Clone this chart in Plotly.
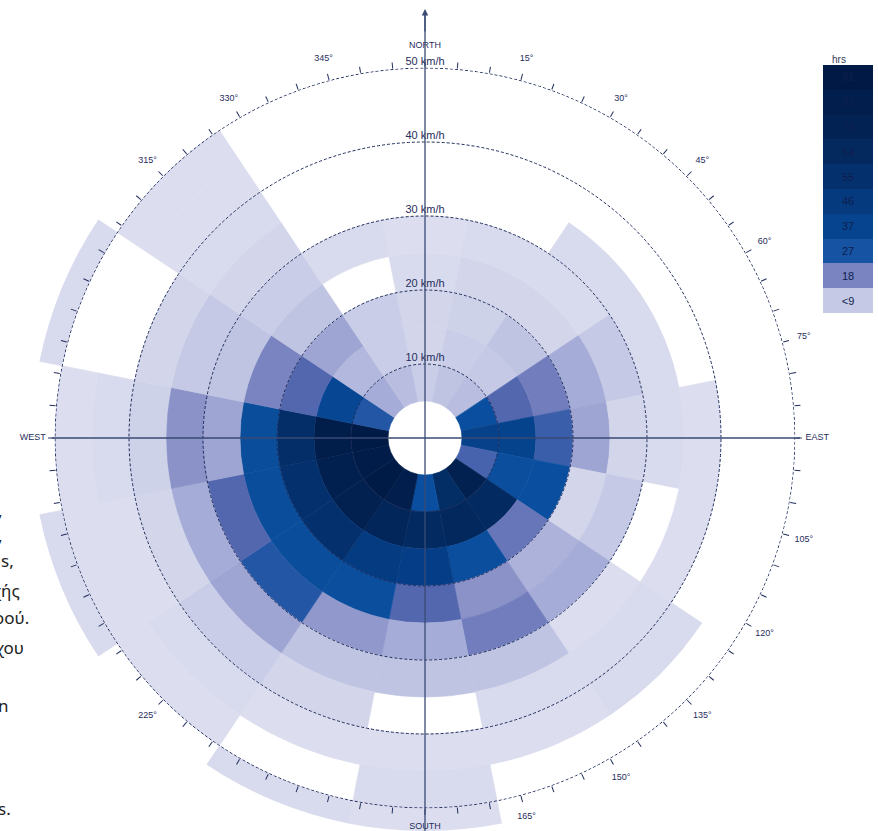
import plotly.graph_objects as go

# ---------------- data ----------------
directions = ["N", "NNE", "NE", "ENE", "E", "ESE", "SE", "SSE",
              "S", "SSW", "SW", "WSW", "W", "WNW", "NW", "NNW"]
direction_deg = [0, 22.5, 45, 67.5, 90, 112.5, 135, 157.5,
                 180, 202.5, 225, 247.5, 270, 292.5, 315, 337.5]
speed_bin_start = [5, 10, 15, 20, 25, 30, 35, 40, 45, 50]   # km/h
speed_bin_size = 5                                          # km/h

# hours per speed bin, values in the order of `directions`
hrs_05_10 = [6, 8, 9, 28, 40, 23, 75, 60, 28, 82, 88, 86, 89, 26, 12, 9]
hrs_10_15 = [4, 6, 7, 22, 38, 29, 62, 65, 62, 68, 76, 78, 84, 35, 10, 6]
hrs_15_20 = [4, 5, 8, 19, 24, 28, 20, 29, 42, 45, 55, 55, 58, 22, 13, 6]
hrs_20_25 = [3, 4, 4, 12, 13, 4, 11, 16, 22, 29, 30, 30, 30, 18, 8, 0]
hrs_25_30 = [2, 3, 3, 7, 4, 7, 12, 19, 12, 15, 26, 22, 13, 8, 6, 3]
hrs_30_35 = [0, 0, 3, 3, 3, 0, 2, 8, 8, 8, 13, 12, 16, 7, 4, 0]
hrs_35_40 = [0, 0, 0, 0, 2, 2, 3, 3, 0, 4, 6, 4, 5, 4, 3, 0]
hrs_40_45 = [0, 0, 0, 0, 0, 0, 3, 2, 2, 2, 3, 2, 3, 0, 2, 0]
hrs_45_50 = [0, 0, 0, 0, 0, 0, 0, 0, 3, 0, 2, 2, 2, 0, 2, 0]
hrs_50_55 = [0, 0, 0, 0, 0, 0, 0, 0, 2, 3, 0, 3, 0, 3, 0, 0]
hours_by_bin = [hrs_05_10, hrs_10_15, hrs_15_20, hrs_20_25, hrs_25_30,
                hrs_30_35, hrs_35_40, hrs_40_45, hrs_45_50, hrs_50_55]

ring_kmh = [10, 20, 30, 40, 50]
legend_labels = ["<9", "18", "27", "37", "46", "55", "64", "73", "82", "91"]
legend_values = [7, 18, 27, 37, 46, 55, 64, 73, 82, 91]
hours_max = 91

# degree labels that the reference shows (others are hidden under outer bars)
degree_labels = [15, 30, 45, 60, 75, 105, 120, 135, 150, 165, 225, 315, 330, 345]
cardinal_deg = [0, 90, 180, 270]
cardinal_names = ["NORTH", "EAST", "SOUTH", "WEST"]

side_text = [",", ",", "s,", "χής", "ρού.", "χου", "n", "s."]

# ---------------- style ----------------
scale_hours = [0, 2, 4, 7, 10, 13, 16, 19, 22, 25, 28, 37, 46, 55, 64, 73, 91]
scale_colors = ["#e4e5f3", "#dcdeef", "#d3d6eb", "#c5c9e5", "#b3b9de", "#9ea5d3",
                "#8a92c8", "#717dbc", "#5367af", "#2f5aa8", "#0a4f9f", "#06448f",
                "#053a7f", "#04316d", "#03295f", "#022253", "#011a45"]
colorscale = [[h / hours_max, c] for h, c in zip(scale_hours, scale_colors)]

NAVY = "#1f2d5c"
LINE = "#3a4a74"
FONT = "Liberation Sans, Arial, sans-serif"
W, H = 878, 831
CX, CY = 425, 438          # centre of the rose (px, from top-left)
PX_PER_KMH = 7.4
R_OUTER = 393              # visible radius of the bar subplot (px)
R_FRAME = 50.05            # km/h, frame subplot range
LABEL_R = 53.0             # radius (km/h units) of the labels round the rim
CARDINAL_R = [53.0, 53.0, 52.6, 53.0]

# ---------------- build bars ----------------
theta, base, rr, col = [], [], [], []
for start, row in zip(speed_bin_start, hours_by_bin):
    for ang, v in zip(direction_deg, row):
        if v > 0:
            theta.append(ang)
            base.append(start)
            rr.append(speed_bin_size)
            col.append(v)

fig = go.Figure()
fig.add_trace(go.Barpolar(
    theta=theta, r=rr, base=base, width=22.5,
    marker=dict(color=col, colorscale=colorscale, cmin=0, cmax=hours_max,
                line=dict(width=0.6, color=col, colorscale=colorscale,
                          cmin=0, cmax=hours_max)),
    subplot="polar", hoverinfo="skip", showlegend=False))

# degree and compass labels around the outer ring
fig.add_trace(go.Scatterpolar(
    r=[LABEL_R] * len(degree_labels) + CARDINAL_R,
    theta=degree_labels + cardinal_deg, mode="text",
    text=[f"{d}°" for d in degree_labels] + cardinal_names,
    textposition="middle center",
    textfont=dict(size=9, color=NAVY, family=FONT),
    subplot="polar", cliponaxis=False, hoverinfo="skip", showlegend=False))

# outer 50 km/h dashed ring
circle_theta = list(range(0, 361, 2))
fig.add_trace(go.Scatterpolar(
    r=[ring_kmh[-1]] * len(circle_theta), theta=circle_theta, mode="lines",
    line=dict(color=NAVY, width=1, dash="3px,2px"),
    subplot="polar2", hoverinfo="skip", showlegend=False))

fig.add_trace(go.Scatterpolar(
    r=ring_kmh, theta=[0] * len(ring_kmh), mode="text",
    text=[f"{v} km/h" for v in ring_kmh], textposition="top center",
    textfont=dict(size=11, color=NAVY, family=FONT),
    subplot="polar2", cliponaxis=False, hoverinfo="skip", showlegend=False))

# legend as a heatmap column
fig.add_trace(go.Heatmap(
    z=[[v] for v in legend_values], x=[0], y=list(range(len(legend_values))),
    text=[[t] for t in legend_labels], texttemplate="%{text}",
    textfont=dict(size=11, color="#0e1e50", family=FONT),
    colorscale=colorscale, zmin=0, zmax=hours_max, showscale=False,
    xgap=0, ygap=0, hoverinfo="skip"))

tickvals = list(range(0, 360, 5))
r_frame_px = R_FRAME * PX_PER_KMH

fig.update_layout(
    width=W, height=H, margin=dict(l=0, r=0, t=0, b=0),
    paper_bgcolor="white", plot_bgcolor="white", showlegend=False,
    font=dict(family=FONT, color=NAVY),
    polar=dict(
        domain=dict(x=[(CX - R_OUTER) / W, (CX + R_OUTER) / W],
                    y=[(H - CY - R_OUTER) / H, (H - CY + R_OUTER) / H]),
        bgcolor="white",
        radialaxis=dict(range=[0, R_OUTER / PX_PER_KMH], showline=False,
                        showgrid=False, showticklabels=False, ticks=""),
        angularaxis=dict(direction="clockwise", rotation=90, showline=False,
                         showgrid=False, showticklabels=False, ticks=""),
    ),
    polar2=dict(
        domain=dict(x=[(CX - r_frame_px) / W, (CX + r_frame_px) / W],
                    y=[(H - CY - r_frame_px) / H, (H - CY + r_frame_px) / H]),
        bgcolor="rgba(0,0,0,0)",
        radialaxis=dict(range=[0, R_FRAME], tickvals=ring_kmh[:-1], showline=False,
                        showticklabels=False, ticks="", showgrid=True,
                        gridcolor=NAVY, gridwidth=1, griddash="3px,2px"),
        angularaxis=dict(direction="clockwise", rotation=90, tickmode="array",
                         tickvals=tickvals, ticktext=[""] * len(tickvals),
                         ticks="outside", ticklen=6, tickwidth=1, tickcolor=NAVY,
                         showgrid=False, showline=False),
    ),
    xaxis=dict(domain=[823 / W, 873 / W], visible=False, fixedrange=True),
    yaxis=dict(domain=[(H - 313) / H, (H - 65) / H], visible=False,
               range=[-0.5, len(legend_values) - 0.5], fixedrange=True),
)

# crosshair axes and north arrow
fig.add_shape(type="line", xref="paper", yref="paper",
              x0=(CX - 373) / W, x1=(CX + 375) / W,
              y0=(H - CY) / H, y1=(H - CY) / H,
              line=dict(color=LINE, width=1.3), layer="above")
fig.add_shape(type="line", xref="paper", yref="paper",
              x0=CX / W, x1=CX / W, y0=0, y1=(H - 14) / H,
              line=dict(color=LINE, width=1.3), layer="above")
fig.add_annotation(x=CX / W, y=(H - 9) / H, xref="paper", yref="paper",
                   ax=0, ay=24, showarrow=True, arrowhead=2, arrowsize=1.0,
                   arrowwidth=1.3, arrowcolor=LINE, text="")

# legend title
fig.add_annotation(x=848 / W, y=(H - 52) / H, xref="paper", yref="paper",
                   text="hrs", showarrow=False,
                   font=dict(size=10, color="#333a55", family=FONT))

# clipped page text on the left
side_y = [510, 535, 560, 590, 617, 647, 705, 808]
side_right = [5, 5, 16, 22, 31, 26, 11, 13]
for t, yy, xr in zip(side_text, side_y, side_right):
    fig.add_annotation(x=xr / W, y=(H - yy) / H, xref="paper", yref="paper",
                       text=t, showarrow=False, xanchor="right", yanchor="middle",
                       font=dict(size=17, color="#222222", family="Noto Sans"))

fig.write_html("out.html")
